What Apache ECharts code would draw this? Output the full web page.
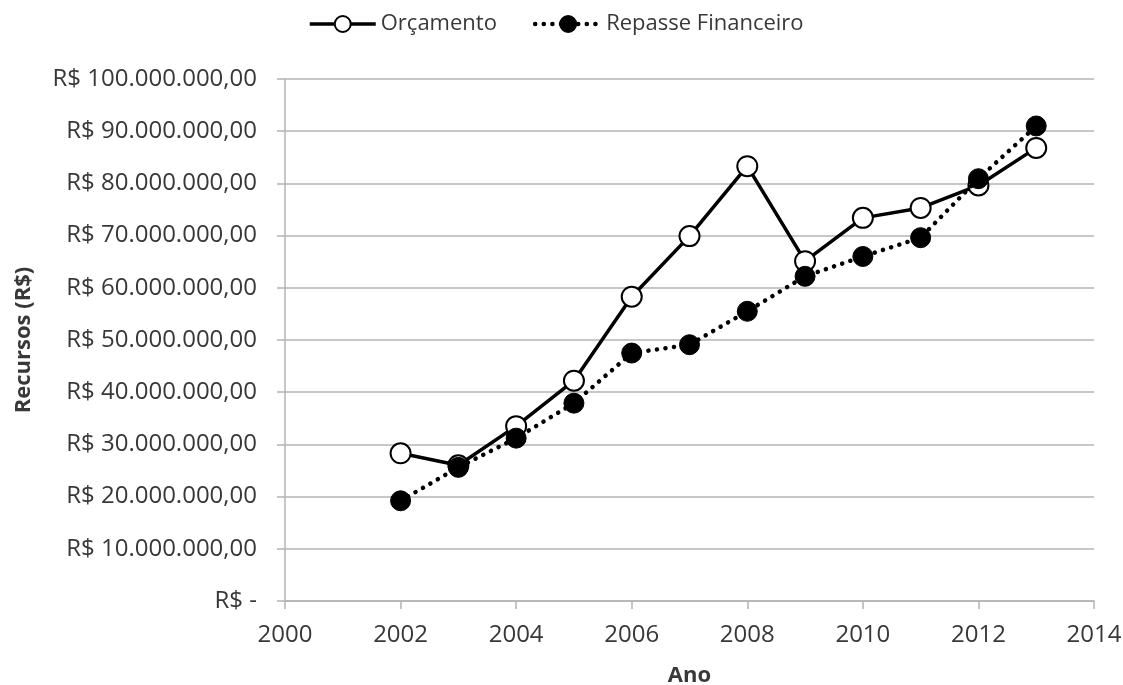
<!DOCTYPE html>
<html>
<head>
<meta charset="utf-8">
<script src="https://cdn.jsdelivr.net/npm/echarts@6/dist/echarts.min.js"></script>
<style>
  html, body { margin: 0; padding: 0; background: #fff; }
  #chart { width: 1123px; height: 685px; }
</style>
</head>
<body>
<div id="chart"></div>
<script>
// Annual resources, in R$
var years = [2002, 2003, 2004, 2005, 2006, 2007, 2008, 2009, 2010, 2011, 2012, 2013];
var orcamento = [28300000, 26000000, 33500000, 42200000, 58300000, 69900000, 83300000, 65100000, 73400000, 75300000, 79600000, 86800000];
var repasse = [19200000, 25600000, 31200000, 37900000, 47500000, 49100000, 55500000, 62200000, 66000000, 69600000, 80900000, 91000000];
var seriesNames = ['Orçamento', 'Repasse Financeiro'];
var axisNames = { x: 'Ano', y: 'Recursos (R$)' };

function pairs(values) {
  return years.map(function (y, i) { return [y, values[i]]; });
}

function brl(v) {
  if (v === 0) return 'R$ -';
  var s = Math.round(v).toString().replace(/\B(?=(\d{3})+(?!\d))/g, '.');
  return 'R$ ' + s + ',00';
}

var font = 'Open Sans';
var textColor = '#383838';
var gridColor = '#b4b4b4';

var chart = echarts.init(document.getElementById('chart'), null, { renderer: 'canvas' });
chart.setOption({
  animation: false,
  backgroundColor: '#ffffff',
  textStyle: { fontFamily: font },
  legend: {
    left: 303,
    top: 8,
    itemWidth: 66,
    itemHeight: 20,
    itemGap: 36,
    lineStyle: { width: 'inherit' },
    textStyle: { fontFamily: font, fontSize: 22, color: textColor },
    data: seriesNames
  },
  grid: { left: 285, right: 29, top: 79, bottom: 84, outerBoundsMode: 'none', containLabel: false },
  xAxis: {
    type: 'value',
    min: 2000,
    max: 2014,
    interval: 2,
    name: axisNames.x,
    nameLocation: 'middle',
    nameGap: 64,
    nameTextStyle: { fontFamily: font, fontSize: 22, fontWeight: 'bold', color: textColor },
    axisLine: { show: true, lineStyle: { color: gridColor, width: 1.5 } },
    axisTick: { show: true, length: 8, lineStyle: { color: gridColor, width: 1.5 } },
    axisLabel: { margin: 22, fontFamily: font, fontSize: 24, color: textColor, formatter: function (v) { return String(v); } },
    splitLine: { show: false }
  },
  yAxis: {
    type: 'value',
    min: 0,
    max: 100000000,
    interval: 10000000,
    name: axisNames.y,
    nameLocation: 'middle',
    nameGap: 250,
    nameTextStyle: { fontFamily: font, fontSize: 22, fontWeight: 'bold', color: textColor },
    axisLine: { show: true, lineStyle: { color: gridColor, width: 1.5 } },
    axisTick: { show: true, length: 8, lineStyle: { color: gridColor, width: 1.5 } },
    axisLabel: { margin: 28, fontFamily: font, fontSize: 24, color: textColor, formatter: brl },
    splitLine: { show: true, lineStyle: { color: gridColor, width: 1.5 } }
  },
  series: [
    {
      name: seriesNames[0],
      type: 'line',
      data: pairs(orcamento),
      symbol: 'circle',
      symbolSize: 20,
      lineStyle: { color: '#000', width: 3.5 },
      itemStyle: { color: '#ffffff', borderColor: '#000', borderWidth: 2 },
      z: 2
    },
    {
      name: seriesNames[1],
      type: 'line',
      data: pairs(repasse),
      symbol: 'circle',
      symbolSize: 20,
      lineStyle: { color: '#000', width: 4.5, type: [0.1, 8.5], cap: 'round' },
      itemStyle: { color: '#000', borderColor: '#000', borderWidth: 1 },
      z: 3
    }
  ]
});
</script>
</body>
</html>
